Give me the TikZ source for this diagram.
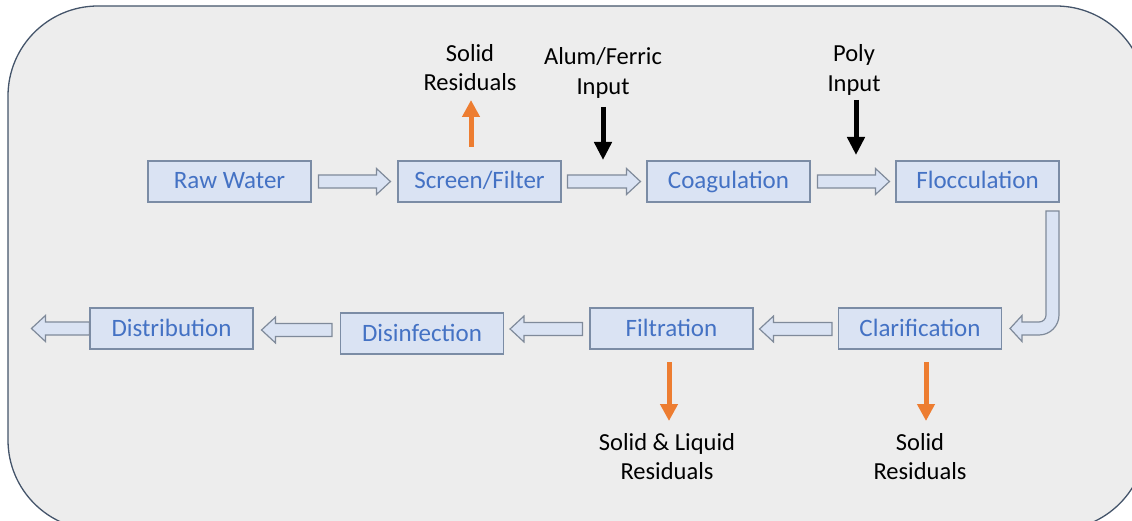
\documentclass[tikz,border=0pt]{standalone}
\usepackage{fontspec}
\setmainfont{Carlito}
\usetikzlibrary{calc,arrows.meta}
\definecolor{bg}{HTML}{EDEDED}
\definecolor{bgline}{HTML}{44546A}
\definecolor{boxfill}{HTML}{DAE3F3}
\definecolor{boxline}{HTML}{7B8CA5}
\definecolor{boxtext}{HTML}{4472C4}
\definecolor{arrline}{HTML}{7F8A9A}
\definecolor{orng}{HTML}{ED7D31}
\newcommand\hblock[3]{\draw[barrow] ($(#1)+(0,-6.5)$) -- ($(#2|-#1)+(#3,-6.5)$) -- ($(#2|-#1)+(#3,-13)$) -- (#2|-#1) -- ($(#2|-#1)+(#3,13)$) -- ($(#2|-#1)+(#3,6.5)$) -- ($(#1)+(0,6.5)$) -- cycle;}
\tikzset{
  stage/.style={draw=boxline, fill=boxfill, line width=1.1pt, minimum width=163pt, minimum height=41pt,
    text=boxtext, font=\fontsize{25}{29}\selectfont, text height=19.5pt, text depth=4.5pt, inner sep=0pt},
  lbl/.style={align=center, font=\fontsize{24.5}{29.5}\selectfont, inner sep=0pt},
  barrow/.style={draw=arrline, fill=boxfill, line width=1.2pt, line join=miter},
  outarrow/.style={draw=orng, line width=5pt, -{Triangle[width=17pt,length=17pt,fill=orng]}},
  inarrow/.style={draw=black, line width=5pt, -{Triangle[width=17pt,length=18pt,fill=black]}}
}
\begin{document}
\begin{tikzpicture}[x=1pt,y=-1pt]
\useasboundingbox (0,0) rectangle (1132,521);
\clip (0,0) rectangle (1132,521);
\draw[bgline, fill=bg, line width=1.3pt, rounded corners=90pt] (8,6) rectangle (1146,530);

% stages
\node[stage] (raw) at (229.5,181.5) {Raw Water};
\node[stage] (screen) at (479.5,181.5) {Screen/Filter};
\node[stage] (coag) at (728.5,181.5) {Coagulation};
\node[stage] (floc) at (977.5,181.5) {Flocculation};
\node[stage] (clar) at (920,328.5) {Clarification};
\node[stage] (filt) at (671.5,328.5) {Filtration};
\node[stage] (disinf) at (422,333.5) {Disinfection};
\node[stage] (dist) at (171.5,328.5) {Distribution};

% labels
\node[lbl] (solidA) at (470,67.5) {Solid\\Residuals};
\node[lbl] (alum) at (603,73) {Alum/Ferric\\Input};
\node[lbl] (poly) at (854,70) {Poly\\Input};
\node[lbl] (solidliq) at (667,456.5) {Solid \& Liquid\\Residuals};
\node[lbl] (solidB) at (920,456.5) {Solid\\Residuals};

% block arrows
\coordinate (a1) at ($(raw.east)+(7,0)$);    \coordinate (b1) at ($(screen.west)+(-7,0)$);
\coordinate (a2) at ($(screen.east)+(6,0)$); \coordinate (b2) at ($(coag.west)+(-6,0)$);
\coordinate (a3) at ($(coag.east)+(7,0)$);   \coordinate (b3) at ($(floc.west)+(-6,0)$);
\coordinate (a4) at ($(clar.west)+(-6,0.5)$);  \coordinate (b4) at ($(filt.east)+(6,0)$);
\coordinate (a5) at ($(filt.west)+(-7,0.5)$);  \coordinate (b5) at ($(disinf.east)+(6,0)$);
\coordinate (a6) at ($(disinf.west |- dist.east)+(-8,1.5)$); \coordinate (b6) at ($(dist.east)+(8,0)$);
\coordinate (a7) at (dist.west); \coordinate (b7) at ($(dist.west)+(-58,0)$);
\hblock{a1}{b1}{-14}
\hblock{a2}{b2}{-14}
\hblock{a3}{b3}{-14}
\hblock{a4}{b4}{14}
\hblock{a5}{b5}{14}
\hblock{a6}{b6}{14}
\hblock{a7}{b7}{14}

% bent arrow from Flocculation to Clarification
\draw[barrow] (1046,211) -- (1059,211) -- (1059,315) .. controls (1059,326) and (1050,335) .. (1039,335)
  -- (1022,335) -- (1022,341.5) -- (1010,328.5) -- (1022,315.5) -- (1022,322) -- (1039,322)
  .. controls (1043,322) and (1046,319) .. (1046,315) -- cycle;

% residual / input arrows
\coordinate (oA1) at (471,147); \coordinate (oA2) at (471,100);
\draw[outarrow] (oA1) -- (oA2);
\coordinate (iA1) at (603,107); \coordinate (iA2) at (603,160);
\draw[inarrow] (iA1) -- (iA2);
\coordinate (iB1) at (856,100); \coordinate (iB2) at (856,155);
\draw[inarrow] (iB1) -- (iB2);
\coordinate (oB1) at (669,362); \coordinate (oB2) at (669,421);
\draw[outarrow] (oB1) -- (oB2);
\coordinate (oC1) at (926,362); \coordinate (oC2) at (926,421);
\draw[outarrow] (oC1) -- (oC2);
\end{tikzpicture}
\end{document}
